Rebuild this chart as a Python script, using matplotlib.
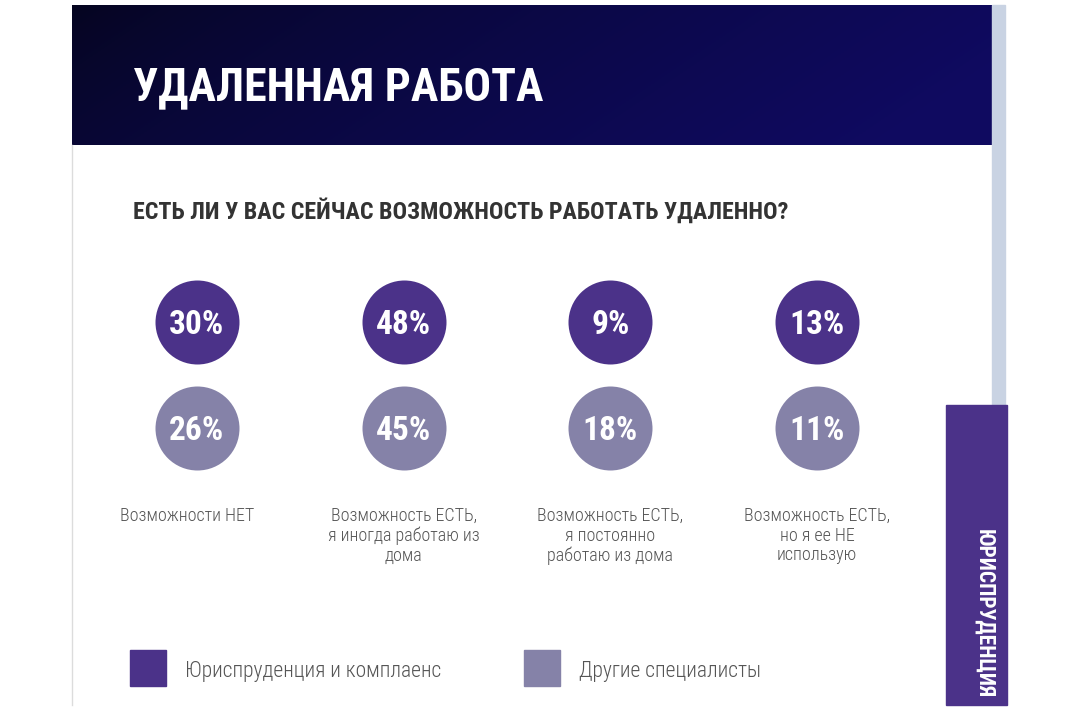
import numpy as np
import matplotlib
matplotlib.use('Agg')
import matplotlib.pyplot as plt
from matplotlib.patches import Rectangle
from matplotlib.transforms import offset_copy

# данные
answers = ['Возможности НЕТ',
           'Возможность ЕСТЬ,\nя иногда работаю из\nдома',
           'Возможность ЕСТЬ,\nя постоянно\nработаю из дома',
           'Возможность ЕСТЬ,\nно я ее НЕ\nиспользую']
lawyers = [30, 48, 9, 13]
others = [26, 45, 18, 11]
groups = ['Юриспруденция и комплаенс', 'Другие специалисты']

title = 'УДАЛЕННАЯ РАБОТА'
question = 'ЕСТЬ ЛИ У ВАС СЕЙЧАС ВОЗМОЖНОСТЬ РАБОТАТЬ УДАЛЕННО?'
side_tab = 'ЮРИСПРУДЕНЦИЯ'

dark = '#4b3289'
light = '#8582a8'
grey_text = '#555555'
cond = ['Roboto Condensed', 'DejaVu Sans']

W, H = 1080, 724
fig = plt.figure(figsize=(W / 100, H / 100), dpi=100)
fig.patch.set_facecolor('white')

# фон страницы в пиксельных координатах
bg = fig.add_axes([0, 0, 1, 1])
bg.set_xlim(0, W)
bg.set_ylim(H, 0)
bg.axis('off')

# шапка с градиентом
gx, gy = np.meshgrid(np.linspace(0, 1, 256), np.linspace(0, 1, 64))
t = np.clip(0.9 * gx + 0.2 * gy, 0, 1) ** 0.7
c0 = np.array([0.02, 0.02, 0.12])
c1 = np.array([0.06, 0.04, 0.38])
img = c0 + (c1 - c0) * t[..., None]
bg.imshow(img, extent=(72, 992, 145, 5), aspect='auto', zorder=1)
bg.text(133, 100, title, color='white', fontsize=33, fontweight='bold',
        family=cond, va='baseline', ha='left', zorder=2)

# края страницы
bg.add_patch(Rectangle((992, 5), 13, 400, color='#c9d3e3', zorder=1))
bg.plot([72, 72], [145, 705], color='#dcdcdc', lw=1, zorder=1)
bg.add_patch(Rectangle((946, 405), 61, 300, color=dark, zorder=2))
bg.text(984, 698, side_tab, color='white', fontsize=15.5, fontweight='bold',
        family=cond, rotation=-90, va='bottom', ha='center', zorder=3)

bg.text(133, 219, question, color='#333333', fontsize=17.3, fontweight='bold',
        family=cond, va='baseline', ha='left')

# легенда
for x0, col, name in [(130, dark, groups[0]), (524, light, groups[1])]:
    bg.add_patch(Rectangle((x0, 650), 36, 36, color=col))
    bg.text(x0 + 55, 677, name, color=grey_text, fontsize=15.5, fontweight='light',
            family=cond, va='baseline', ha='left')

# круги: 0 -> y=322 px, -1 -> y=428 px; индекс 0 -> x=197 px, 3 -> x=817 px
px_x = (817 - 197) / 3
px_y = 428 - 322
x_lo, x_hi = 100, 920
y_top, y_bot = 270, 600
ax = fig.add_axes([x_lo / W, 1 - y_bot / H, (x_hi - x_lo) / W, (y_bot - y_top) / H])
ax.set_xlim(-(197 - x_lo) / px_x, 3 + (x_hi - 817) / px_x)
ax.set_ylim(-(y_bot - 322) / px_y, (322 - y_top) / px_y)
ax.axis('off')

idx = np.arange(len(answers))
size = (2 * 42 * 0.72) ** 2
ax.scatter(idx, np.zeros(len(idx)), s=size, color=dark, linewidths=0)
ax.scatter(idx, -np.ones(len(idx)), s=size, color=light, linewidths=0)

num_tr = offset_copy(ax.transData, fig=fig, y=-8.5, units='points')
for i in idx:
    ax.text(i, 0, f'{lawyers[i]}%', color='white', fontsize=24, fontweight='bold',
            family=cond, ha='center', va='baseline', transform=num_tr)
    ax.text(i, -1, f'{others[i]}%', color='white', fontsize=24, fontweight='bold',
            family=cond, ha='center', va='baseline', transform=num_tr)

# подписи ответов
for i, lab in enumerate(answers):
    ax.annotate(lab, xy=(i, -1), xytext=(-7 if i == 0 else 0, -57),
                textcoords='offset points', color=grey_text, fontsize=13,
                fontweight='light', family=cond, ha='center', va='top',
                linespacing=1.1)

fig.savefig('out.png', dpi=100)
